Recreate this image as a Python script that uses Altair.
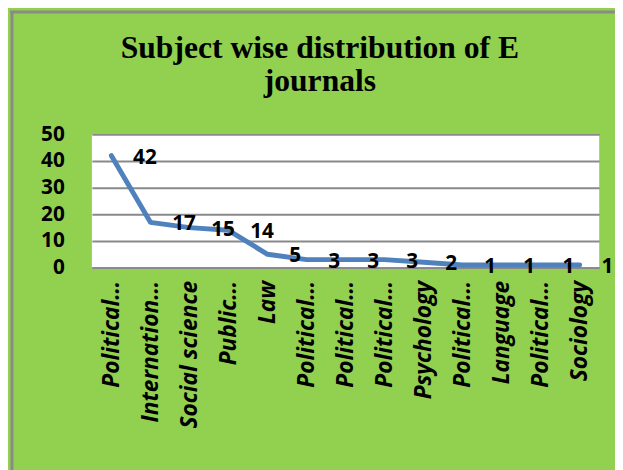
import json
import altair as alt
import pandas as pd

labels = ["Political…", "Internation…", "Social science", "Public…", "Law",
          "Political…", "Political…", "Political…", "Psychology", "Political…",
          "Language", "Political…", "Sociology"]
values = [42, 17, 15, 14, 5, 3, 3, 3, 2, 1, 1, 1, 1]
y_ticks = [0, 10, 20, 30, 40, 50]
title_lines = ["Subject wise distribution of E", "journals"]

df = pd.DataFrame({"idx": list(range(len(labels))), "label": labels, "count": values})

label_expr = json.dumps(labels, ensure_ascii=False) + "[datum.value]"

GREEN = "#92D050"
GRID = "#898989"
LINE = "#4F81BD"
FONT = "Open Sans"

x_enc = alt.X("idx:O", sort=list(range(len(labels))),
              scale=alt.Scale(type="point", padding=0.5),
              axis=alt.Axis(title=None, labelExpr=label_expr, labelAngle=-90,
                            labelFont=FONT, labelFontSize=23, labelFontWeight="bold",
                            labelFontStyle="italic", labelColor="black",
                            labelPadding=13, ticks=False, domain=True,
                            domainColor=GRID, domainWidth=2, grid=False,
                            labelOverlap=False))
y_enc = alt.Y("count:Q", scale=alt.Scale(domain=[0, 50], nice=False),
              axis=alt.Axis(title=None, values=y_ticks, labelFont=FONT,
                            labelFontSize=21, labelFontWeight="bold",
                            labelColor="black", labelPadding=28, ticks=False,
                            domain=False, grid=True, gridColor=GRID, gridWidth=2))

base = alt.Chart(df)

line = base.mark_line(color=LINE, strokeWidth=5, strokeCap="round",
                      strokeJoin="round").encode(x=x_enc, y=y_enc)

text = base.mark_text(align="left", baseline="middle", dx=22, dy=2,
                      font=FONT, fontSize=21, fontWeight="bold",
                      color="black").encode(x=x_enc, y=y_enc, text="count:Q")

frame_data = alt.Data(values=[{"k": 1}])
left_border = alt.Chart(frame_data).mark_rule(color="#8a8a8a", strokeWidth=3).encode(
    x=alt.value(-81), y=alt.value(-125), y2=alt.value(340))
top_border = alt.Chart(frame_data).mark_rule(color="#8a8a8a", strokeWidth=3).encode(
    y=alt.value(-124), x=alt.value(-83), x2=alt.value(540))

chart = alt.layer(line, text, left_border, top_border).properties(
    width=514, height=135,
    autosize=alt.AutoSizeParams(type="none"),
    padding={"left": 85, "top": 125, "right": 16, "bottom": 202},
    background=GREEN,
    title=alt.TitleParams(text=title_lines, font="Liberation Serif", fontSize=32,
                          fontWeight="bold", color="black", lineHeight=34,
                          anchor="middle", frame="group", offset=39, dy=129, dx=-26),
).configure_view(fill="white", strokeWidth=0)

chart.save("out.html", embed_options={"renderer": "svg", "actions": False})
